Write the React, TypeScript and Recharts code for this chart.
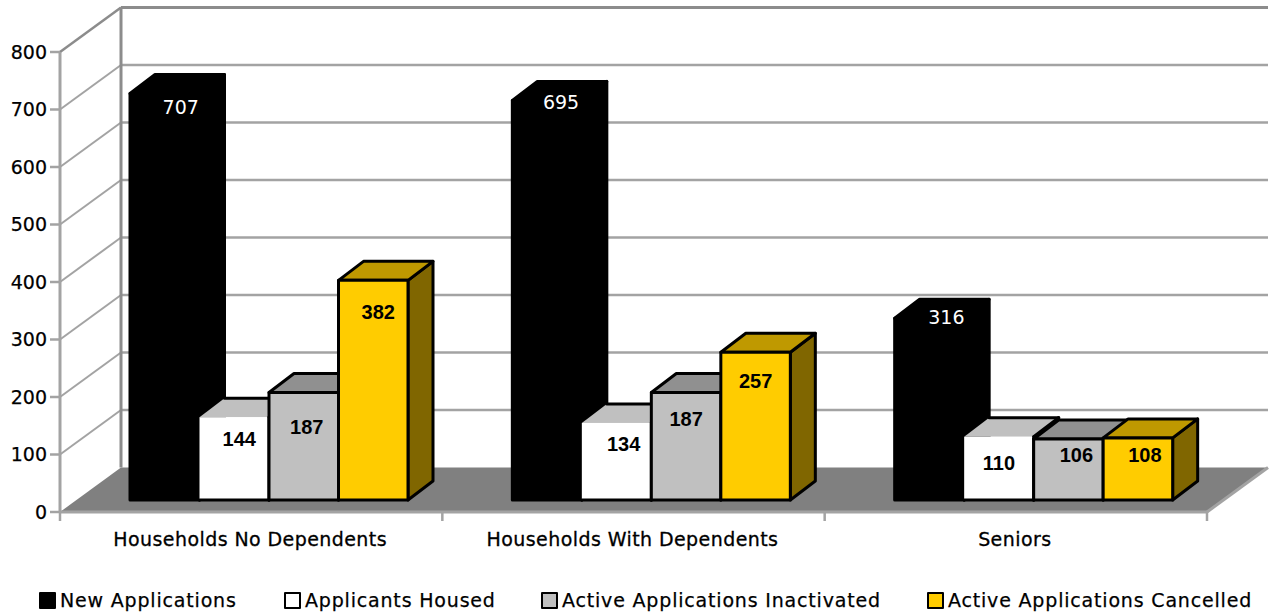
import React from 'react';
import { BarChart, Bar, XAxis, YAxis, CartesianGrid, Legend, LabelList } from 'recharts';

const categories = ['Households No Dependents', 'Households With Dependents', 'Seniors'];
const newApplications = [707, 695, 316];
const applicantsHoused = [144, 134, 110];
const activeInactivated = [187, 187, 106];
const activeCancelled = [382, 257, 108];
const yTicks = [0, 100, 200, 300, 400, 500, 600, 700, 800];

const rows = categories.map((name, i) => ({
  name,
  a: newApplications[i],
  b: applicantsHoused[i],
  c: activeInactivated[i],
  d: activeCancelled[i],
}));

const W = 1270, H = 614;
const TOP = 52, BOTTOM = 512, LEFT = 60, RIGHT = 1207;
const WALL_DX = 61, WALL_DY = 44.5;
const BAR_DX = 18, BAR_DY = 12;
const DEPTH_X = 25, DEPTH_Y = 19;
const GRID = '#a3a3a3';
const UI_FONT = '"DejaVu Sans", sans-serif';
const LABEL_FONT = '"Liberation Sans", Arial, sans-serif';

const labelNudge: Record<string, [number, number][]> = {
  a: [[16, 14], [14, 2], [17, -1]],
  b: [[5, 22], [7, 21], [0, 26]],
  c: [[3, 35], [0, 27], [8, 16]],
  d: [[5, 32], [0, 29], [7, 17]],
};

const Box = (props: any) => {
  const { x, y, width, height, front, topFace, side, edge, openFront } = props;
  const fx = x + BAR_DX;
  const fy = y - BAR_DY;
  const fb = fy + height;
  const fr = fx + width;
  const sw = 3;
  if (openFront) {
    return (
      <g stroke={edge} strokeWidth={sw} strokeLinejoin="round" strokeLinecap="round">
        <polygon fill={side} points={`${fr},${fy} ${fr + DEPTH_X},${fy - DEPTH_Y} ${fr + DEPTH_X},${fb - DEPTH_Y} ${fr},${fb}`} />
        <polygon fill={topFace} stroke="none" points={`${fx},${fy} ${fx + DEPTH_X},${fy - DEPTH_Y} ${fr + DEPTH_X},${fy - DEPTH_Y} ${fr},${fy}`} />
        <line x1={fx + DEPTH_X} y1={fy - DEPTH_Y} x2={fr + DEPTH_X} y2={fy - DEPTH_Y} />
        <line x1={fr + DEPTH_X} y1={fy - DEPTH_Y} x2={fr} y2={fy} />
        <rect x={fx} y={fy} width={width} height={height} fill={front} stroke="none" />
        <line x1={fr} y1={fy} x2={fr} y2={fb} />
        <line x1={fx} y1={fb} x2={fr} y2={fb} />
      </g>
    );
  }
  return (
    <g stroke={edge} strokeWidth={sw} strokeLinejoin="round">
      <polygon fill={side} points={`${fr},${fy} ${fr + DEPTH_X},${fy - DEPTH_Y} ${fr + DEPTH_X},${fb - DEPTH_Y} ${fr},${fb}`} />
      <polygon fill={topFace} points={`${fx},${fy} ${fx + DEPTH_X},${fy - DEPTH_Y} ${fr + DEPTH_X},${fy - DEPTH_Y} ${fr},${fy}`} />
      <rect x={fx} y={fy} width={width} height={height} fill={front} />
    </g>
  );
};

const GridLine = (props: any) => {
  const { x1, x2, y1 } = props;
  const y = y1;
  const isFloor = Math.abs(y - BOTTOM) < 1;
  const isTop = Math.abs(y - TOP) < 1;
  return (
    <g>
      {isFloor && (
        <polygon
          points={`${x1},${y} ${x1 + WALL_DX},${y - WALL_DY} ${x2 + WALL_DX},${y - WALL_DY} ${x2},${y}`}
          fill="#808080"
          stroke="none"
        />
      )}
      {isFloor && (
        <line x1={x2} y1={y} x2={x2 + WALL_DX} y2={y - WALL_DY} stroke={GRID} strokeWidth={3} />
      )}
      {!isFloor && (
        <line x1={x1 + WALL_DX} y1={y - WALL_DY} x2={x2 + WALL_DX} y2={y - WALL_DY} stroke={isTop ? '#8c8c8c' : GRID} strokeWidth={isTop ? 3 : 2.5} />
      )}
      {!isFloor && (
        <line x1={x1} y1={y} x2={x1 + WALL_DX} y2={y - WALL_DY} stroke={isTop ? '#8c8c8c' : GRID} strokeWidth={isTop ? 2.5 : 2} />
      )}
      {isTop && (
        <line x1={x1 + WALL_DX} y1={TOP - WALL_DY} x2={x1 + WALL_DX} y2={BOTTOM - WALL_DY} stroke="#8c8c8c" strokeWidth={3} />
      )}
    </g>
  );
};

const CategoryTick = (props: any) => {
  const { x, payload, index } = props;
  const half = (RIGHT - LEFT) / 6;
  return (
    <g>
      <line x1={x - half} y1={BOTTOM} x2={x - half} y2={BOTTOM + 9} stroke={GRID} strokeWidth={2.5} />
      {index === categories.length - 1 && (
        <line x1={x + half} y1={BOTTOM} x2={x + half} y2={BOTTOM + 9} stroke={GRID} strokeWidth={2.5} />
      )}
      <text
        x={x - 1}
        y={BOTTOM + 34}
        textAnchor="middle"
        fontFamily={UI_FONT}
        fontSize={19}
        letterSpacing={0.42}
        fill="#000"
        stroke="#000"
        strokeWidth={0.3}
      >
        {payload.value}
      </text>
    </g>
  );
};

const makeLabel = (key: string, color: string, font: string, weight: string | number, size: number) => (props: any) => {
  const { x, y, width, value, index } = props;
  const [nx, ny] = labelNudge[key][index];
  return (
    <text
      x={x + BAR_DX + width / 2 + nx}
      y={y - BAR_DY + ny}
      textAnchor="middle"
      dominantBaseline="central"
      fontFamily={font}
      fontWeight={weight}
      fontSize={size}
      fill={color}
    >
      {value}
    </text>
  );
};

const series = [
  { key: 'a', name: 'New Applications', front: '#000000', topFace: '#000000', side: '#000000', label: '#ffffff', font: UI_FONT, weight: 400, size: 19, open: false },
  { key: 'b', name: 'Applicants Housed', front: '#ffffff', topFace: '#c0c0c0', side: '#808080', label: '#000000', font: LABEL_FONT, weight: 700, size: 20, open: true },
  { key: 'c', name: 'Active Applications Inactivated', front: '#c0c0c0', topFace: '#909090', side: '#606060', label: '#000000', font: LABEL_FONT, weight: 700, size: 20, open: false },
  { key: 'd', name: 'Active Applications Cancelled', front: '#ffcc00', topFace: '#bf9900', side: '#806600', label: '#000000', font: LABEL_FONT, weight: 700, size: 20, open: false },
];

const legendLefts = [39, 284, 541, 927];

const LegendRow = ({ payload }: any) => {
  const ordered = [...(payload || [])].sort(
    (p: any, q: any) => series.findIndex((s) => s.name === p.value) - series.findIndex((s) => s.name === q.value),
  );
  return (
    <div style={{ position: 'relative', width: W, height: 24 }}>
      {ordered.map((p: any, i: number) => (
        <div key={p.value} style={{ position: 'absolute', left: legendLefts[i], top: 0, display: 'flex', alignItems: 'center', whiteSpace: 'nowrap', height: 24 }}>
          <span style={{ width: 13, height: 13, background: p.color, border: '2px solid #000', borderRadius: 1, marginRight: 4, display: 'inline-block' }} />
          <span style={{ fontFamily: UI_FONT, fontSize: 19, letterSpacing: 0.82, color: '#000', WebkitTextStroke: '0.25px #000' }}>{p.value}</span>
        </div>
      ))}
    </div>
  );
};

export default function App() {
  return (
    <div style={{ position: 'absolute', left: 0, top: 0, width: W, height: H }}>
      <BarChart
        width={W}
        height={H}
        data={rows}
        margin={{ top: TOP, right: W - RIGHT, bottom: H - BOTTOM - 60, left: 0 }}
        barSize={69.5}
        barGap={0}
      >
        <CartesianGrid vertical={false} horizontal={GridLine as any} />
        <XAxis
          dataKey="name"
          height={60}
          interval={0}
          tickLine={false}
          tick={CategoryTick as any}
          axisLine={{ stroke: GRID, strokeWidth: 3 }}
        />
        <YAxis
          width={LEFT}
          domain={[0, 800]}
          ticks={yTicks}
          tickSize={10}
          tickMargin={3}
          tick={{ fontFamily: UI_FONT, fontSize: 19, fill: '#000', stroke: '#000', strokeWidth: 0.25 }}
          axisLine={{ stroke: GRID, strokeWidth: 3 }}
          tickLine={{ stroke: GRID, strokeWidth: 2.5 }}
        />
        <Legend verticalAlign="middle" wrapperStyle={{ top: 588, left: 0, width: W }} content={LegendRow as any} />
        {series.map((s) => (
          <Bar
            key={s.key}
            dataKey={s.key}
            name={s.name}
            fill={s.front}
            isAnimationActive={false}
            shape={(p: any) => <Box {...p} front={s.front} topFace={s.topFace} side={s.side} edge="#000" openFront={s.open} />}
          >
            <LabelList dataKey={s.key} content={makeLabel(s.key, s.label, s.font, s.weight, s.size) as any} />
          </Bar>
        ))}
      </BarChart>
    </div>
  );
}
